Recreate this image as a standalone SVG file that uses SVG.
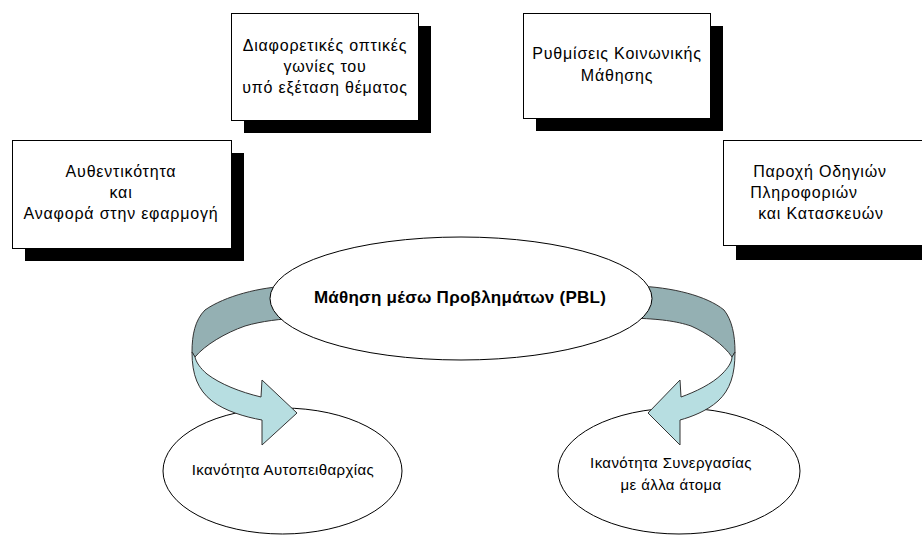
<svg xmlns="http://www.w3.org/2000/svg" width="922" height="535" viewBox="0 0 922 535">
<style>
.box{fill:#fff;stroke:#000;stroke-width:1}
.sh{fill:#000}
.el{fill:#fff;stroke:#000;stroke-width:1}
.t{font-family:"Liberation Sans",Arial,sans-serif;font-size:16px;letter-spacing:0.8px;fill:#000;text-anchor:middle}
.te{font-family:"Liberation Sans",Arial,sans-serif;font-size:15px;letter-spacing:0.4px;fill:#000;text-anchor:middle}
.tb{font-family:"Liberation Sans",Arial,sans-serif;font-size:17px;letter-spacing:0.25px;font-weight:bold;fill:#000;text-anchor:middle}
.dk{fill:#94B0B3;stroke:#333;stroke-width:1}
.lt{fill:#B7DEE1;stroke:#333;stroke-width:1}
</style>
<rect width="922" height="535" fill="#fff"/>
<g id="box-authenticity">
<rect class="sh" x="25" y="153" width="219" height="108"/>
<rect class="box" x="12.5" y="140.5" width="219" height="108"/>
<text class="t" x="121" y="177">Αυθεντικότητα</text>
<text class="t" x="121" y="198">και</text>
<text class="t" x="121" y="219">Αναφορά στην εφαρμογή</text>
</g>
<g id="box-perspectives">
<rect class="sh" x="244" y="26" width="187" height="107"/>
<rect class="box" x="231.5" y="13.5" width="187" height="107"/>
<text class="t" x="325" y="51">Διαφορετικές οπτικές</text>
<text class="t" x="325" y="72">γωνίες του</text>
<text class="t" x="325" y="93">υπό εξέταση θέματος</text>
</g>
<g id="box-social">
<rect class="sh" x="536" y="26" width="187" height="105"/>
<rect class="box" x="523.5" y="13.5" width="187" height="105"/>
<text class="t" x="617" y="59">Ρυθμίσεις Κοινωνικής</text>
<text class="t" x="617" y="81">Μάθησης</text>
</g>
<g id="box-guidance">
<rect class="sh" x="736" y="153" width="210" height="107"/>
<rect class="box" x="723.5" y="140.5" width="210" height="105"/>
<text class="t" x="820" y="177">Παροχή Οδηγιών</text>
<text class="t" x="804" y="198">Πληροφοριών</text>
<text class="t" x="821" y="219">και Κατασκευών</text>
</g>
<g id="node-selfdiscipline">
<ellipse class="el" cx="282.5" cy="471" rx="119.5" ry="63"/>
<text class="te" x="283" y="475">Ικανότητα Αυτοπειθαρχίας</text>
</g>
<g id="node-collaboration">
<ellipse class="el" cx="679" cy="471" rx="121" ry="63"/>
<text class="te" x="671" y="468">Ικανότητα Συνεργασίας</text>
<text class="te" x="671" y="490">με άλλα άτομα</text>
</g>
<g id="connectors">
<g id="arrow-left">
<path class="dk" d="M290,286 C260,287 225,296 205,310 C195,320 192,335 192,352 L195,357 C205,345 225,333 245,326 C262,321 280,319 300,318 Z"/>
<path class="lt" d="M192,352 C192,375 198,390 212,401 C225,411 245,417 262,420 L262,445 L297,413 L262,380 L261,397 C240,392 220,384 207,374 C200,368 196,362 195,357 Z"/>
</g>
<g id="arrow-right">
<path class="dk" d="M636,286 C672,287 707,296 724,310 C732,320 735,335 735,352 L732,357 C724,345 707,333 691,326 C676,321 660,319 632,318 Z"/>
<path class="lt" d="M735,352 C735,375 730,390 718,401 C707,411 691,417 680,420 L680,445 L648,413 L680,380 L681,397 C695,392 712,384 722,374 C728,368 732,362 732,357 Z"/>
</g>
</g>
<g id="node-pbl">
<ellipse class="el" cx="461" cy="298.5" rx="191" ry="61.5"/>
<text class="tb" x="460" y="303">Μάθηση μέσω Προβλημάτων (PBL)</text>
</g>
</svg>
